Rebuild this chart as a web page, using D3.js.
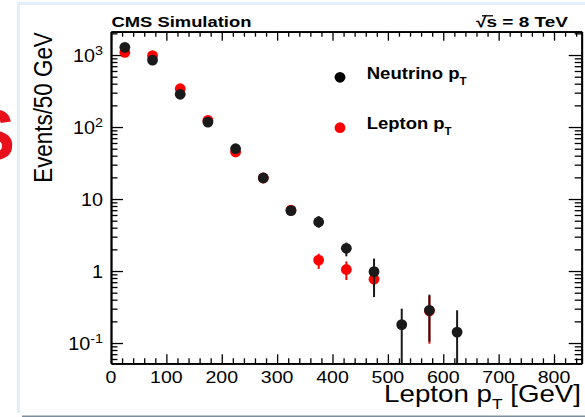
<!DOCTYPE html>
<html><head><meta charset="utf-8">
<script src="https://cdn.jsdelivr.net/npm/d3@7"></script>
<style>body{margin:0;background:#fff;overflow:hidden;} svg{display:block;} text{font-family:"Liberation Sans",Arial,Helvetica,sans-serif;}</style>
</head><body><svg id="c" width="585" height="417"></svg>
<script>
// ---- data ----
const binCenters  = [25, 75, 125, 175, 225, 275, 325, 375, 425, 475, 525, 575, 625];
const neutrino    = [1280, 850, 285, 117, 50, 19.6, 6.9, 4.8, 2.07, 0.98, 0.18, 0.285, 0.142];
const neutrinoLo  = [1250, 830, 276, 112, 47, 18.4, 6.3, 4.0, 1.6, 0.435, 0, 0.105, 0];
const neutrinoHi  = [1310, 870, 294, 122, 53, 20.8, 7.5, 5.8, 2.48, 1.49, 0.30, 0.47, 0.285];
const lepton      = [1090, 980, 340, 124, 45, 19.6, 7.0, 1.42, 1.05, 0.77, null, 0.28, null];
const leptonLo    = [1060, 955, 330, 119, 42, 18.5, 6.4, 1.07, 0.75, 0.5, null, 0.098, null];
const leptonHi    = [1120, 1005, 350, 129, 48, 20.8, 7.6, 1.74, 1.36, 1.1, null, 0.45, null];
const xTickValues = [0, 100, 200, 300, 400, 500, 600, 700, 800];
const yTickValues = [0.1, 1, 10, 100, 1000];
const yTickBase   = ["10", "1", "10", "10", "10"];
const yTickExp    = ["-1", "", "", "2", "3"];
const seriesNames = ["Neutrino p", "Lepton p"];

// ---- layout ----
const svg = d3.select("#c");
const L = 111, R = 581.7, T = 31.7, B = 363.3;
const x = d3.scaleLinear().domain([0, 850]).range([L, R]);
const y = d3.scaleLog().domain([0.0523, 2109]).range([B, T]);

// slide decorations
svg.append("rect").attr("x",17).attr("y",2).attr("width",568).attr("height",3).attr("fill","#e1effa");
svg.append("rect").attr("x",17).attr("y",2).attr("width",3).attr("height",411).attr("fill","#e1effa");
svg.append("line").attr("x1",22).attr("x2",585).attr("y1",416.3).attr("y2",416.3).attr("stroke","#7d8d9c").attr("stroke-width",1.5);
svg.append("text").attr("x",-33).attr("y",160).attr("font-size",72).attr("font-weight","bold").attr("fill","#e8101a").text("S");

function label(p, o){
  const g = p.append("g");
  const t = g.append("text").attr("text-anchor", o.anchor||"start").attr("font-size", o.size)
    .attr("font-weight", o.weight||"normal").attr("fill", o.fill||"#000");
  let shift = 0;
  o.parts.forEach(pt => {
    const s = typeof pt === "string" ? {t: pt} : pt;
    const ts = t.append("tspan").text(s.t);
    const target = s.dy !== undefined ? s.dy : 0;
    if (target !== shift) { ts.attr("dy", target - shift); shift = target; }
    if (s.size) ts.attr("font-size", s.size);
  });
  let k = o.sx || 1;
  if (o.width) k = o.width / t.node().getBBox().width;
  g.attr("transform", `translate(${o.x},${o.y}) rotate(${o.rot||0}) scale(${k},1)`);
  return g;
}

// ---- axes (ticks inward) ----
const minorX = d3.range(0, 851, 20).filter(v => v % 100 !== 0);
const minorY = [];
[0.01, 0.1, 1, 10, 100, 1000].forEach(d => { for (let m = 2; m <= 9; m++) { const v = d*m; if (v > 0.0523 && v < 2109) minorY.push(v); } });

function ax(gen, tr, vals, size){
  const g = svg.append("g").attr("transform", tr)
    .call(gen.tickValues(vals).tickSize(size).tickSizeOuter(0).tickFormat(""));
  g.selectAll("line").attr("stroke","#000").attr("stroke-width",1.3);
  g.select(".domain").attr("stroke","#000").attr("stroke-width",1.8);
  return g;
}
ax(d3.axisBottom(x), `translate(0,${B})`, xTickValues, -9);
ax(d3.axisBottom(x), `translate(0,${B})`, minorX, -5);
ax(d3.axisTop(x), `translate(0,${T})`, xTickValues, -9);
ax(d3.axisTop(x), `translate(0,${T})`, minorX, -5);
ax(d3.axisLeft(y), `translate(${L},0)`, yTickValues, -12);
ax(d3.axisLeft(y), `translate(${L},0)`, minorY, -6.5);
ax(d3.axisRight(y), `translate(${R},0)`, yTickValues, -13);
ax(d3.axisRight(y), `translate(${R},0)`, minorY, -7);

// tick labels
xTickValues.forEach(v => label(svg, {x: x(v), y: 382.5, anchor: "middle", size: 17, sx: 1.15, parts: [String(v)]}));
yTickValues.forEach((v, i) => {
  const parts = [yTickBase[i]];
  if (yTickExp[i]) parts.push({t: yTickExp[i], dy: -7.5, size: 13});
  label(svg, {x: 103, y: y(v) + 7, anchor: "end", size: 18, sx: 1.1, parts});
});

// titles
label(svg, {x: 581, y: 402, anchor: "end", size: 24, width: 197,
  parts: ["Lepton p", {t: "T", dy: 7, size: 15}, {t: " [GeV]", dy: 0}]});
label(svg, {x: 51.5, y: 107.5, anchor: "middle", size: 25, width: 151, rot: -90, parts: ["Events/50 GeV"]});
label(svg, {x: 111.5, y: 27, size: 15, weight: "bold", width: 140, parts: ["CMS Simulation"]});
label(svg, {x: 476, y: 27, size: 15, weight: "bold", width: 92, parts: ["\u221As = 8 TeV"]});
svg.append("line").attr("x1",482).attr("x2",493).attr("y1",15.8).attr("y2",15.8).attr("stroke","#000").attr("stroke-width",1.3);

// ---- data marks ----
const ymin = y.domain()[0];
function series(vals, lo, hi, color){
  const g = svg.append("g");
  binCenters.forEach((c, i) => {
    if (vals[i] == null) return;
    g.append("line").attr("x1", x(c)).attr("x2", x(c))
      .attr("y1", y(Math.max(lo[i], ymin))).attr("y2", y(hi[i]))
      .attr("stroke", color).attr("stroke-width", 2);
    g.append("circle").attr("cx", x(c)).attr("cy", y(vals[i])).attr("r", 5.4).attr("fill", color);
  });
}
series(lepton, leptonLo, leptonHi, "#ff0000");
series(neutrino, neutrinoLo, neutrinoHi, "#1a1a1a");

// legend
const legend = [{name: seriesNames[0], color: "#000", cy: 77.3}, {name: seriesNames[1], color: "#ff0000", cy: 127.7}];
legend.forEach(l => {
  svg.append("circle").attr("cx", 340).attr("cy", l.cy).attr("r", 5.4).attr("fill", l.color);
});
label(svg, {x: 366.7, y: 79, size: 16, weight: "bold", width: 100, parts: [seriesNames[0], {t: "T", dy: 6, size: 10}]});
label(svg, {x: 366.7, y: 129.3, size: 16, weight: "bold", width: 85, parts: [seriesNames[1], {t: "T", dy: 6, size: 10}]});
</script></body></html>
